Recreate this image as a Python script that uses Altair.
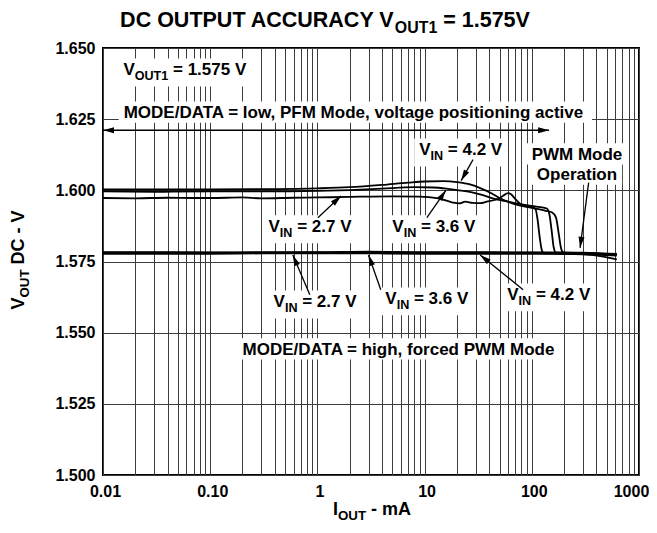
import math
import altair as alt
import pandas as pd

# ---------------- data ----------------
# PFM mode (MODE/DATA = low), output current in mA, output voltage in V
pfm42_i = [0.01, 0.03, 0.1, 0.3, 1, 2, 4, 7, 10, 15, 20, 27, 33, 42, 50, 62, 78, 95, 115, 135,
           155, 168, 178, 188, 198, 300, 450, 620]
pfm42_v = [1.6003, 1.6003, 1.6003, 1.6004, 1.6007, 1.6011, 1.6019, 1.6027, 1.6031, 1.6032,
           1.6029, 1.6020, 1.6008, 1.5990, 1.5973, 1.5958, 1.5946, 1.5940, 1.5934, 1.5928,
           1.5922, 1.5905, 1.5850, 1.5795, 1.5781, 1.5779, 1.5778, 1.5776]

pfm36_i = [0.01, 0.03, 0.1, 0.3, 1, 2, 4, 8, 12, 16, 20, 27, 35, 45, 55, 65, 80, 95, 110, 125,
           138, 146, 153, 160, 168, 300, 450, 620]
pfm36_v = [1.5996, 1.5995, 1.5996, 1.5996, 1.5998, 1.6001, 1.6006, 1.6011, 1.6010, 1.6006,
           1.6001, 1.5994, 1.5983, 1.5970, 1.5963, 1.5958, 1.5951, 1.5946, 1.5943, 1.5940,
           1.5936, 1.5915, 1.5860, 1.5800, 1.5781, 1.5779, 1.5777, 1.5775]

pfm27_i = [0.01, 0.02, 0.04, 0.07, 0.1, 0.2, 0.3, 0.6, 1, 2, 5, 9, 13, 18, 21, 24, 28, 33, 38, 45,
           50, 55, 60, 64, 70, 78, 88, 100, 108, 113, 118, 124, 130, 200, 300, 450, 620]
pfm27_v = [1.5973, 1.5972, 1.5974, 1.5973, 1.5973, 1.5975, 1.5972, 1.5974, 1.5975, 1.5977,
           1.5979, 1.5978, 1.5973, 1.5958, 1.5954, 1.5960, 1.5956, 1.5955, 1.5960, 1.5966,
           1.5972, 1.5983, 1.5990, 1.5986, 1.5970, 1.5952, 1.5945, 1.5941, 1.5935, 1.5900,
           1.5840, 1.5790, 1.5779, 1.5778, 1.5776, 1.5768, 1.5757]

# forced PWM mode (MODE/DATA = high)
pwm_i = [0.01, 0.03, 0.1, 0.3, 1, 3, 10, 30, 100, 200, 300, 450, 620]
pwm27_v = [1.5782, 1.5782, 1.5781, 1.5782, 1.5782, 1.5784, 1.5782, 1.5782, 1.5781, 1.5781, 1.5780, 1.5778, 1.5776]
pwm36_v = [1.5780, 1.5780, 1.5780, 1.5780, 1.5781, 1.5781, 1.5780, 1.5780, 1.5780, 1.5779, 1.5778, 1.5776, 1.5774]
pwm42_v = [1.5778, 1.5778, 1.5778, 1.5779, 1.5779, 1.5779, 1.5778, 1.5778, 1.5778, 1.5777, 1.5776, 1.5774, 1.5771]

y_ticks = [1.500, 1.525, 1.550, 1.575, 1.600, 1.625, 1.650]
x_major = [0.01, 0.1, 1, 10, 100, 1000]
x_major_labels = ["0.01", "0.10", "1", "10", "100", "1000"]

# annotation anchors (mA, V): (parts, x, y, align)
annotations = [
    ([("V", 0), ("OUT1", 1), (" = 1.575 V", 0)], 0.0155, 1.6406, "left"),
    ([("MODE/DATA = low, PFM Mode, voltage positioning active", 0)], 0.0156, 1.6255, "left"),
    ([("V", 0), ("IN", 1), (" = 4.2 V", 0)], 8.9, 1.6125, "left"),
    ([("PWM Mode", 0)], 264, 1.6108, "center"),
    ([("Operation", 0)], 264, 1.6037, "center"),
    ([("V", 0), ("IN", 1), (" = 2.7 V", 0)], 0.35, 1.5855, "left"),
    ([("V", 0), ("IN", 1), (" = 3.6 V", 0)], 5.0, 1.5855, "left"),
    ([("V", 0), ("IN", 1), (" = 2.7 V", 0)], 0.39, 1.5591, "left"),
    ([("V", 0), ("IN", 1), (" = 3.6 V", 0)], 4.3, 1.5602, "left"),
    ([("V", 0), ("IN", 1), (" = 4.2 V", 0)], 59, 1.5616, "left"),
    ([("MODE/DATA = high, forced PWM Mode", 0)], 5.9, 1.5423, "center"),
]

# arrows: (start mA, start V, tip mA, tip V)
arrows = [
    (28.3, 1.6108, 21.9, 1.6034),
    (339, 1.6027, 282, 1.5798),
    (1.01, 1.5904, 1.66, 1.5980),
    (10.5, 1.5904, 15.8, 1.6000),
    (0.85, 1.5633, 0.59, 1.5773),
    (3.9, 1.5651, 3.0, 1.5773),
    (83, 1.5651, 33, 1.5773),
]
# double-headed range arrow of the PFM annotation
range_arrow = (0.01, 145, 1.6211)

# ---------------- layout ----------------
W, H = 536, 427
X0, X1 = 0.01, 1000.0
Y0, Y1 = 1.500, 1.650
PPD = W / math.log10(X1 / X0)
VPP = (Y1 - Y0) / H
FONT = "Liberation Sans, Arial, Helvetica, sans-serif"
ANN = 17
GRID = "#3c3c3c"

AW = {' ': .278, '=': .584, '.': .278, ',': .278, '-': .333, '/': .278,
      'A': .722, 'C': .722, 'D': .722, 'E': .667, 'F': .611, 'I': .278, 'M': .833, 'N': .722,
      'O': .778, 'P': .667, 'R': .722, 'T': .611, 'U': .722, 'V': .667, 'W': .944, 'Y': .667,
      'a': .556, 'c': .556, 'd': .611, 'e': .556, 'f': .333, 'g': .611, 'h': .611, 'i': .278,
      'l': .278, 'm': .889, 'n': .611, 'o': .611, 'p': .611, 'r': .389, 's': .556, 't': .333,
      'v': .556, 'w': .778}
for ch in "0123456789":
    AW[ch] = .556


def tw(s, size):
    return sum(AW.get(c, .56) for c in s) * size


def xs(x, px):
    return x * 10 ** (px / PPD)


def ys(y, px):
    return y - px * VPP


def to_px(x, y):
    return math.log10(x / X0) * PPD, (Y1 - y) / VPP


grid_vals = []
for d in range(-2, 3):
    for k in range(1, 10):
        grid_vals.append(round(k * 10 ** d, 6))
grid_vals.append(1000.0)

label_expr = " : ".join(
    f"abs(datum.value - {v}) < {v / 1000} ? '{l}'" for v, l in zip(x_major, x_major_labels)
) + " : ''"

x_axis = alt.Axis(values=grid_vals, labelExpr=label_expr, grid=True, gridColor=GRID,
                  gridWidth=1, ticks=False, domain=False, labelFont=FONT, labelFontSize=16,
                  labelFontWeight="bold", labelColor="black", labelPadding=8,
                  labelOverlap=False, labelFlush=False, title=None,
                  labelOffset={"condition": {"test": "datum.value > 500", "value": -8},
                               "value": 2})
y_axis = alt.Axis(values=y_ticks, format=".3f", grid=True, gridColor=GRID, gridWidth=1,
                  ticks=False, domain=False, labelFont=FONT, labelFontSize=16,
                  labelFontWeight="bold", labelColor="black", labelPadding=8, title=None)

XENC = alt.X("x:Q", scale=alt.Scale(type="log", domain=[X0, X1], nice=False), axis=x_axis)
YENC = alt.Y("y:Q", scale=alt.Scale(domain=[Y0, Y1], nice=False, zero=False), axis=y_axis)


def pieces(parts, size):
    """Split rich text into (text, offset, is_sub, fontsize); leading spaces become offset."""
    sub = size * 0.74
    out = []
    off = 0.0
    for t, s in parts:
        fs = sub if s else size
        stripped = t.lstrip(" ")
        off += tw(t[:len(t) - len(stripped)], fs)
        out.append((stripped, off, s, fs))
        off += tw(stripped, fs)
    return out, off


# ---------------- build layers ----------------
text_layers = []
boxes = []


def rich(parts, x, y, size, align):
    items, total = pieces(parts, size)
    start = 0.0 if align == "left" else -total / 2
    has_sub = any(s for _, s in parts)
    for t, off, s, fs in items:
        df = pd.DataFrame({"x": [x], "y": [y], "t": [t]})
        text_layers.append(
            alt.Chart(df).mark_text(align="left", baseline="alphabetic", dx=start + off,
                                    dy=size * 0.3 if s else 0, font=FONT, fontSize=fs,
                                    fontWeight="bold", color="black")
            .encode(x=XENC, y=YENC, text="t:N"))
    boxes.append({"x": xs(x, start - 5), "x2": xs(x, start + total + 5),
                  "y": ys(y, -(size * 0.72 + 4)),
                  "y2": ys(y, (size * 0.45 + 4) if has_sub else 5)})


for parts, ax, ay, al in annotations:
    rich(parts, ax, ay, ANN, al)

box_layer = alt.Chart(pd.DataFrame(boxes)).mark_rect(color="white").encode(
    x=XENC, x2="x2:Q", y=YENC, y2="y2:Q")

pfm_rows, pwm_rows = [], []
for name, xi, vi in [("pfm27", pfm27_i, pfm27_v), ("pfm36", pfm36_i, pfm36_v),
                     ("pfm42", pfm42_i, pfm42_v)]:
    for a, b in zip(xi, vi):
        pfm_rows.append({"series": name, "x": a, "y": b})
for name, vi in [("pwm27", pwm27_v), ("pwm36", pwm36_v), ("pwm42", pwm42_v)]:
    for a, b in zip(pwm_i, vi):
        pwm_rows.append({"series": name, "x": a, "y": b})

pfm_curves = alt.Chart(pd.DataFrame(pfm_rows)).mark_line(
    color="black", strokeWidth=1.8, interpolate="monotone").encode(
    x=XENC, y=YENC, detail="series:N")
pwm_curves = alt.Chart(pd.DataFrame(pwm_rows)).mark_line(
    color="black", strokeWidth=2.2, interpolate="monotone").encode(
    x=XENC, y=YENC, detail="series:N")

arrow_rows, head_rows = [], []
for n, (x1, y1, x2, y2) in enumerate(arrows):
    arrow_rows.append({"aid": n, "o": 0, "x": x1, "y": y1})
    arrow_rows.append({"aid": n, "o": 1, "x": x2, "y": y2})
    p1, p2 = to_px(x1, y1), to_px(x2, y2)
    ang = math.degrees(math.atan2(p2[0] - p1[0], -(p2[1] - p1[1]))) % 360
    head_rows.append({"x": x2, "y": y2, "ang": ang})
ra0, ra1, rav = range_arrow
arrow_rows.append({"aid": 99, "o": 0, "x": ra0, "y": rav})
arrow_rows.append({"aid": 99, "o": 1, "x": ra1, "y": rav})
head_rows.append({"x": ra0, "y": rav, "ang": 270.0})
head_rows.append({"x": ra1, "y": rav, "ang": 90.0})

arrow_lines = alt.Chart(pd.DataFrame(arrow_rows)).mark_line(
    color="black", strokeWidth=1.3).encode(x=XENC, y=YENC, detail="aid:N", order="o:Q")
arrow_heads = alt.Chart(pd.DataFrame(head_rows)).mark_point(
    shape="M0,0L-0.6,2.2L0.6,2.2Z", filled=True, size=100, color="black", opacity=1,
    strokeWidth=0).encode(x=XENC, y=YENC, angle=alt.Angle("ang:Q", scale=None))


# titles in pixel positions relative to the plot origin
def pix_text(parts, px, py, size, align="left", angle=0):
    items, total = pieces(parts, size)
    start = 0.0 if align == "left" else -total / 2
    out = []
    for t, off, s, fs in items:
        kw = dict(align="left", baseline="alphabetic", dx=start + off,
                  dy=size * 0.3 if s else 0, font=FONT, fontSize=fs, fontWeight="bold",
                  color="black")
        if angle:
            kw["angle"] = angle
        out.append(alt.Chart(pd.DataFrame({"t": [t]})).mark_text(**kw).encode(
            x=alt.value(px), y=alt.value(py), text="t:N"))
    return out


title_layers = pix_text([("DC OUTPUT ACCURACY V", 0), ("OUT1", 1), (" = 1.575V", 0)],
                        325 - 103, 27 - 48, 21.5, "center")
xtitle_layers = pix_text([("I", 0), ("OUT", 1), (" - mA", 0)], 372 - 103, 515 - 48, 18,
                         "center")
ytitle_layers = pix_text([("V", 0), ("OUT", 1), (" DC - V", 0)], 24 - 103, 260 - 48, 18,
                         "center", angle=270)

chart = alt.layer(box_layer, pfm_curves, pwm_curves, arrow_lines, arrow_heads, *text_layers,
                  *title_layers, *xtitle_layers, *ytitle_layers).properties(
    width=W, height=H,
    padding={"left": 95, "top": 40, "right": 10, "bottom": 50},
    autosize=alt.AutoSizeParams(type="none"),
).configure_view(stroke="black", strokeWidth=2)

chart.save("out.html", embed_options={"renderer": "svg", "actions": False})
